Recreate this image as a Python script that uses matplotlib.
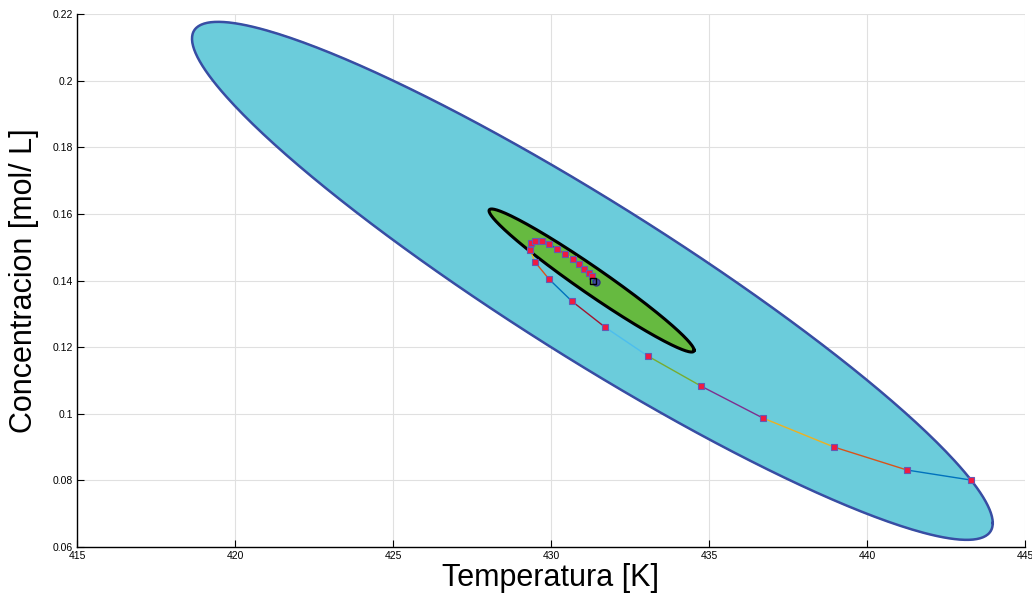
import matplotlib.pyplot as plt
import numpy as np

plt.rcParams['font.family'] = ['Liberation Sans', 'DejaVu Sans']

# closed-loop trajectory, sampled states (T [K], Ca [mol/L])
T_traj = [443.29, 441.27, 438.96, 436.71, 434.75, 433.07, 431.71, 430.66,
          429.94, 429.49, 429.34, 429.37, 429.49, 429.72, 429.94, 430.19,
          430.44, 430.70, 430.89, 431.04, 431.20, 431.30]
C_traj = [0.0801, 0.0831, 0.0900, 0.0987, 0.1083, 0.1173, 0.1260, 0.1338,
          0.1404, 0.1456, 0.1492, 0.1513, 0.1519, 0.1519, 0.1510, 0.1495,
          0.1480, 0.1465, 0.1450, 0.1435, 0.1423, 0.1413]

# equilibrium / reference
T_ref, C_ref = 431.33, 0.1398
T_eq, C_eq = 431.42, 0.1395

# invariant sets: center, half-range in T, half-range in C, coupling cos(d)
big_set = dict(tc=431.31, ct=0.1399, aT=12.67, aC=0.07775, cosd=-0.935)
small_set = dict(tc=431.285, ct=0.1400, aT=3.245, aC=0.02147, cosd=-0.975)

mcolors = [(0, 0.447, 0.741), (0.85, 0.325, 0.098), (0.929, 0.694, 0.125),
           (0.494, 0.184, 0.556), (0.466, 0.674, 0.188), (0.301, 0.745, 0.933),
           (0.635, 0.078, 0.184)]


def ellipse(s, n=400):
    t = np.linspace(0, 2 * np.pi, n)
    d = np.arccos(s['cosd'])
    return s['tc'] + s['aT'] * np.cos(t), s['ct'] + s['aC'] * np.cos(t - d)


fig = plt.figure(figsize=(10.32, 5.94), dpi=100)
ax = fig.add_axes([0.0746, 0.0791, 0.9186, 0.8973])

ex, ey = ellipse(big_set)
ax.fill(ex, ey, color=(0.42, 0.80, 0.86), zorder=2)
ax.plot(ex, ey, color=(0.22, 0.30, 0.64), lw=1.8, zorder=3)

ex, ey = ellipse(small_set)
ax.fill(ex, ey, color=(0.40, 0.73, 0.25), zorder=4)
ax.plot(ex, ey, color='k', lw=2.2, zorder=5)

for i in range(len(T_traj) - 1):
    ax.plot(T_traj[i:i + 2], C_traj[i:i + 2], color=mcolors[i % 7], lw=1.0, zorder=6)
ax.plot([T_traj[-1], T_ref], [C_traj[-1], C_ref], color=mcolors[(len(T_traj) - 1) % 7], lw=1.0, zorder=6)

ax.plot(T_traj, C_traj, 's', ms=5, mfc=(0.95, 0.10, 0.25), mec=(0.40, 0.35, 0.70),
        mew=0.8, ls='none', zorder=7)
ax.plot(T_eq, C_eq, 'o', ms=5, mfc=(0.25, 0.30, 0.65), mec=(0.2, 0.2, 0.5), zorder=7)
ax.plot(T_ref, C_ref, 's', ms=5, mfc='none', mec='k', mew=1.0, zorder=8)

ax.set_xlim(415, 445)
ax.set_ylim(0.06, 0.22)
ax.set_xticks(np.arange(415, 446, 5))
ax.set_yticks(np.arange(0.06, 0.2201, 0.02))
ax.set_yticklabels(['0.06', '0.08', '0.1', '0.12', '0.14', '0.16', '0.18', '0.2', '0.22'])
ax.tick_params(direction='in', labelsize=7.5, length=5, width=0.8, colors='k', pad=3)
ax.grid(True, color=(0.88, 0.88, 0.88), lw=0.8, zorder=0)
ax.set_axisbelow(True)
for sp in ['top', 'right']:
    ax.spines[sp].set_visible(False)
ax.spines['left'].set_linewidth(1.0)
ax.spines['bottom'].set_linewidth(1.0)

ax.set_xlabel('Temperatura [K]', fontsize=22, labelpad=1)
ax.set_ylabel('Concentracion [mol/ L]', fontsize=22, labelpad=10)

fig.savefig('out.png', dpi=100)
